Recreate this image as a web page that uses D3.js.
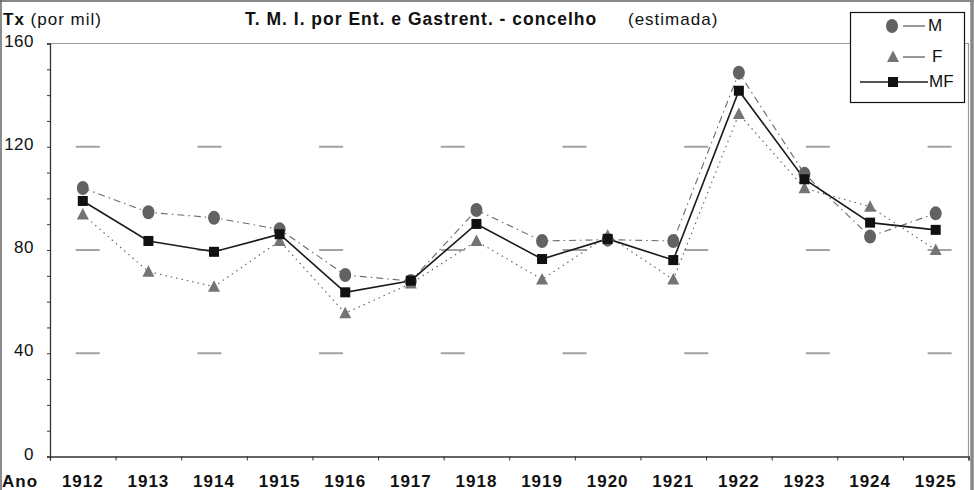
<html>
  <meta charset="utf-8" />
  <script src="https://cdn.jsdelivr.net/npm/d3@7"></script>
  <style>
    body { margin: 0; background: #fff; }
    svg text { font-family: "Liberation Sans", Arial, sans-serif; fill: #111; }
  </style>
  <body>
    <svg width="974" height="490" id="chart"></svg>

    <script>
      // values (taxa por mil)
      const years = [1912, 1913, 1914, 1915, 1916, 1917, 1918, 1919, 1920, 1921, 1922, 1923, 1924, 1925];
      const valuesM = [104, 94.6, 92.5, 88, 70.3, 68, 95.5, 83.5, 84, 83.5, 148.7, 109.5, 85.2, 94.2];
      const valuesF = [93.8, 71.6, 65.8, 83.5, 55.5, 67, 83.5, 68.6, 85.5, 68.6, 132.7, 103.9, 96.8, 80];
      const valuesMF = [99, 83.5, 79.3, 86.1, 63.6, 68.1, 90.1, 76.5, 84.3, 76.1, 141.7, 107.4, 90.6, 87.8];
      const seriesNames = ["M", "F", "MF"];
      const yLabelTicks = [0, 40, 80, 120, 160];

      const svg = d3.select("#chart");
      const pLeft = 50, pRight = 968.5, pTop = 43.5, pBottom = 456.5;

      const x = d3.scaleBand().domain(years).range([pLeft, pRight]).padding(0);
      const xEdge = d3.scaleLinear().domain([0, years.length]).range([pLeft, pRight]);
      const y = d3.scaleLinear().domain([0, 160]).range([pBottom, pTop]);
      const cx = (d) => x(d) + x.bandwidth() / 2;

      // outer frame
      svg.append("line").attr("x1", 0).attr("x2", 974).attr("y1", 1).attr("y2", 1)
        .attr("stroke", "#888").attr("stroke-width", 2);
      svg.append("line").attr("x1", 1).attr("x2", 1).attr("y1", 0).attr("y2", 490)
        .attr("stroke", "#666").attr("stroke-width", 1.5);
      svg.append("line").attr("x1", 972).attr("x2", 972).attr("y1", 0).attr("y2", 490)
        .attr("stroke", "#888").attr("stroke-width", 3.5);

      // plot area border (top / right)
      svg.append("path")
        .attr("d", `M${pLeft},${pTop}H${pRight}V${pBottom}`)
        .attr("fill", "none").attr("stroke", "#999").attr("stroke-width", 1.2);

      // dashed grid
      svg.append("g").selectAll("line")
        .data([40, 80, 120])
        .join("line")
        .attr("x1", pLeft).attr("x2", pRight)
        .attr("y1", (d) => y(d)).attr("y2", (d) => y(d))
        .attr("stroke", "#a3a3a3").attr("stroke-width", 2)
        .attr("stroke-dasharray", "24 97.7")
        .attr("stroke-dashoffset", 96);

      // y axis
      const yAxis = svg.append("g")
        .attr("transform", `translate(${pLeft},0)`)
        .call(d3.axisLeft(y).tickValues(d3.range(0, 161, 10)).tickSize(3).tickPadding(13)
          .tickFormat((d) => (yLabelTicks.includes(d) ? d : "")));
      yAxis.select(".domain").attr("stroke", "#333").attr("stroke-width", 1.3);
      yAxis.selectAll(".tick line").attr("stroke", "#333");
      yAxis.selectAll("text").attr("font-size", 17).attr("dy", "0.15em")
        .attr("letter-spacing", 0.5).style("font-family", "Liberation Sans, Arial");

      // x axis: tick marks at category edges, year labels centred
      const xTicks = svg.append("g")
        .attr("transform", `translate(0,${pBottom})`)
        .call(d3.axisBottom(xEdge).tickValues(d3.range(0, years.length + 1)).tickSize(4).tickFormat(""));
      xTicks.select(".domain").attr("stroke", "#333").attr("stroke-width", 1.3);
      xTicks.selectAll(".tick line").attr("stroke", "#333");

      const xLabels = svg.append("g")
        .attr("transform", `translate(0,${pBottom})`)
        .call(d3.axisBottom(x).tickSize(0).tickPadding(18.5));
      xLabels.select(".domain").remove();
      xLabels.selectAll("text").attr("font-size", 17).attr("font-weight", "bold")
        .attr("letter-spacing", 1).style("font-family", "Liberation Sans, Arial");

      // texts
      svg.append("text").attr("x", 2).attr("y", 487)
        .attr("font-size", 17).attr("font-weight", "bold").attr("letter-spacing", 1).text("Ano");

      const yTitle = svg.append("text").attr("x", 3).attr("y", 25).attr("font-size", 17).attr("letter-spacing", 1);
      yTitle.append("tspan").attr("font-weight", "bold").text("Tx");
      yTitle.append("tspan").text(" (por mil)");

      svg.append("text").attr("x", 245).attr("y", 25)
        .attr("font-size", 17.5).attr("font-weight", "bold").attr("letter-spacing", 1)
        .text("T. M. I. por Ent. e Gastrent. - concelho");
      svg.append("text").attr("x", 628).attr("y", 25)
        .attr("font-size", 17).attr("letter-spacing", 1).text("(estimada)");

      // lines
      const line = (vals) => d3.line().x((d, i) => cx(years[i])).y((d) => y(d))(vals);

      svg.append("path").attr("d", line(valuesM)).attr("fill", "none")
        .attr("stroke", "#6a6a6a").attr("stroke-width", 1.1).attr("stroke-dasharray", "7 4 1.5 4");
      svg.append("path").attr("d", line(valuesF)).attr("fill", "none")
        .attr("stroke", "#6a6a6a").attr("stroke-width", 1.2).attr("stroke-dasharray", "1.5 4");
      svg.append("path").attr("d", line(valuesMF)).attr("fill", "none")
        .attr("stroke", "#1a1a1a").attr("stroke-width", 1.6);

      // markers
      const tri = "M0,-6.5L6,5L-6,5Z";

      svg.append("g").selectAll("ellipse")
        .data(valuesM)
        .join("ellipse")
        .attr("cx", (d, i) => cx(years[i])).attr("cy", (d) => y(d))
        .attr("rx", 6).attr("ry", 7).attr("fill", "#626262");

      svg.append("g").selectAll("path")
        .data(valuesF)
        .join("path")
        .attr("d", tri)
        .attr("transform", (d, i) => `translate(${cx(years[i])},${y(d)})`)
        .attr("fill", "#747474");

      svg.append("g").selectAll("rect")
        .data(valuesMF)
        .join("rect")
        .attr("x", (d, i) => cx(years[i]) - 5).attr("y", (d) => y(d) - 5)
        .attr("width", 10).attr("height", 10).attr("fill", "#111");

      // legend
      const lg = svg.append("g");
      lg.append("rect").attr("x", 850.5).attr("y", 12.5).attr("width", 114).attr("height", 90)
        .attr("fill", "#fff").attr("stroke", "#111").attr("stroke-width", 1.2);
      const legendY = [26, 57, 82];
      const legendTextX = [928, 932, 929];

      lg.append("line").attr("x1", 903).attr("x2", 925).attr("y1", legendY[0]).attr("y2", legendY[0])
        .attr("stroke", "#555").attr("stroke-width", 1.2);
      lg.append("ellipse").attr("cx", 892).attr("cy", legendY[0]).attr("rx", 6).attr("ry", 7).attr("fill", "#626262");

      lg.append("line").attr("x1", 903).attr("x2", 925).attr("y1", legendY[1]).attr("y2", legendY[1])
        .attr("stroke", "#555").attr("stroke-width", 1.2);
      lg.append("path").attr("d", tri).attr("transform", `translate(893,${legendY[1]})`).attr("fill", "#747474");

      lg.append("line").attr("x1", 860).attr("x2", 928).attr("y1", legendY[2]).attr("y2", legendY[2])
        .attr("stroke", "#1a1a1a").attr("stroke-width", 1.6);
      lg.append("rect").attr("x", 888).attr("y", legendY[2] - 5).attr("width", 10).attr("height", 10).attr("fill", "#111");

      lg.selectAll("text.lbl")
        .data(seriesNames)
        .join("text")
        .attr("class", "lbl")
        .attr("x", (d, i) => legendTextX[i])
        .attr("y", (d, i) => legendY[i] + 5)
        .attr("font-size", 17)
        .text((d) => d);
    </script>
  </body>
</html>
